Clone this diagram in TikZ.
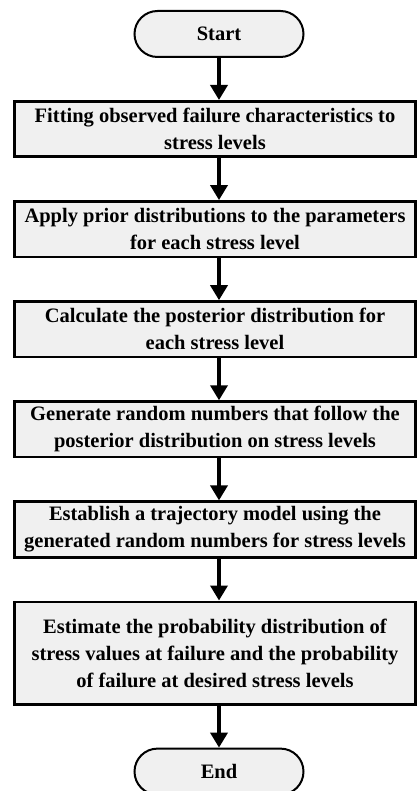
\documentclass[tikz,border=0pt]{standalone}
\usepackage{fontspec}
\setmainfont{Liberation Serif}
\usepackage{tikz}
\usetikzlibrary{positioning,arrows.meta}

\begin{document}
\begin{tikzpicture}[
  node distance=42pt,
  term/.style={draw, line width=2pt, fill=black!6, rounded corners=23pt,
               minimum width=169pt, minimum height=46pt, inner sep=0pt,
               font=\fontsize{20.5}{27}\selectfont\bfseries},
  stepbox/.style={draw, line width=2.6pt, fill=black!6, align=center,
                  minimum width=401pt, minimum height=55.5pt, inner sep=0pt,
                  font=\fontsize{20.5}{27}\selectfont\bfseries},
  arr/.style={-{Triangle[width=17pt,length=15pt]}, line width=3.5pt}
]
  \useasboundingbox (0,0) rectangle (418pt,-791pt);

  % Terminals and steps
  \node[term] (start) at (219pt,-34pt) {Start};
  \node[stepbox, below=of start, xshift=-4pt] (s1)
    {Fitting observed failure characteristics to\\stress levels};
  \node[stepbox, below=of s1] (s2)
    {Apply prior distributions to the parameters\\for each stress level};
  \node[stepbox, below=of s2] (s3)
    {Calculate the posterior distribution for\\each stress level};
  \node[stepbox, below=of s3] (s4)
    {Generate random numbers that follow the\\posterior distribution on stress levels};
  \node[stepbox, below=of s4] (s5)
    {Establish a trajectory model using the\\generated random numbers for stress levels};
  \node[stepbox, below=of s5, minimum height=102.5pt] (s6)
    {Estimate the probability distribution of\\stress values at failure and the probability\\of failure at desired stress levels};
  \node[term, below=of s6, xshift=4pt] (end) {End};

  % Arrows
  \draw[arr] (start) -- (start |- s1.north);
  \draw[arr] (start |- s1.south) -- (start |- s2.north);
  \draw[arr] (start |- s2.south) -- (start |- s3.north);
  \draw[arr] (start |- s3.south) -- (start |- s4.north);
  \draw[arr] (start |- s4.south) -- (start |- s5.north);
  \draw[arr] (start |- s5.south) -- (start |- s6.north);
  \draw[arr] (start |- s6.south) -- (end);
\end{tikzpicture}
\end{document}
